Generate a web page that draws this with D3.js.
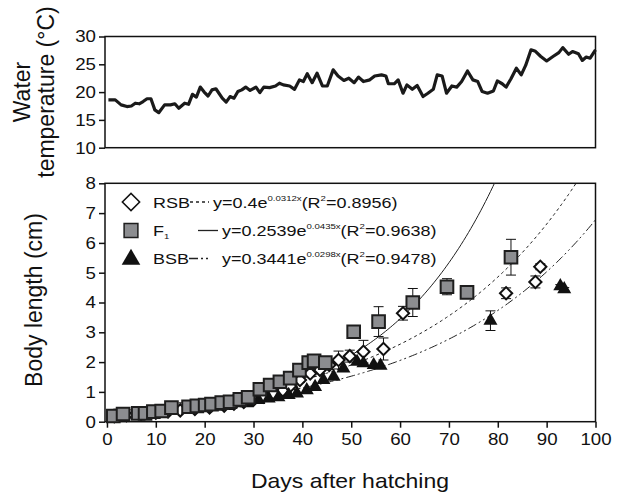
<!DOCTYPE html>
<html>
<head>
<meta charset="utf-8">
<script src="https://cdn.jsdelivr.net/npm/d3@7"></script>
<style>
  body { margin: 0; background: #fff; }
  svg { display: block; font-family: "Liberation Sans", Arial, sans-serif; }
</style>
</head>
<body>
<svg id="chart" width="623" height="495"></svg>
<script>
// water temperature
var tempDays = [0.3, 1.7, 2.9, 4.1, 5, 5.8, 6.6, 7.4, 8.2, 9, 9.8, 10.6, 11.8, 13, 13.9, 14.7, 15.9, 16.7, 17.5, 18.3,
  19.1, 19.9, 20.7, 21.5, 22.3, 23.6, 24.4, 25.2, 26, 26.8, 27.6, 28.4, 29.3, 30.5, 31.3, 32.1, 33.3, 34.5, 35.3, 36.1,
  37.4, 38.4, 39.4, 40.2, 41, 42, 43, 44.1, 45.1, 46.3, 47.3, 48.5, 49.5, 50.6, 51.5, 52.5, 53.8, 54.8, 56.2, 57.1,
  57.6, 58.8, 59.6, 60.6, 61.4, 62.5, 63.5, 64.7, 65.7, 66.8, 67.6, 68.6, 69.5, 70.6, 71.6, 72.6, 73.8, 74.9, 75.9, 76.8,
  77.9, 79.1, 79.9, 80.9, 81.7, 82.7, 83.8, 84.8, 85.7, 86.8, 87.6, 88.8, 90, 91.3, 92.5, 93.3, 94.5, 95.3, 96.5, 97.3,
  98.1, 98.9, 100];
var tempValues = [18.6, 18.6, 17.7, 17.4, 17.5, 18.0, 17.9, 18.3, 18.8, 18.8, 16.8, 16.3, 17.7, 17.7, 17.9, 17.1, 18.0, 17.8, 19.6, 19.1,
  20.9, 20.0, 19.3, 20.4, 20.6, 18.9, 18.2, 19.2, 18.9, 20.1, 20.4, 20.9, 20.3, 20.9, 19.9, 20.9, 20.8, 21.1, 21.6, 21.3,
  21.1, 20.5, 22.2, 21.9, 23.3, 21.7, 23.4, 21.1, 21.1, 24.0, 22.9, 22.1, 22.5, 21.7, 22.7, 21.9, 22.2, 22.9, 23.1, 22.9,
  21.5, 21.5, 22.2, 19.8, 21.3, 20.5, 21.2, 19.2, 19.8, 20.5, 23.1, 22.9, 19.8, 21.1, 20.9, 21.9, 23.8, 22.2, 21.9, 20.1,
  19.8, 20.2, 22.0, 21.5, 20.9, 22.4, 24.3, 23.1, 24.8, 27.6, 27.4, 26.4, 25.6, 26.4, 27.1, 28.0, 26.8, 27.3, 26.9, 25.7,
  26.3, 26.1, 27.6];

// body length, RSB (open diamonds)
var rsbDays = [1.5, 4, 7, 10, 12.5, 15, 18, 21, 24, 26, 28, 30, 32, 34, 36, 37.5, 39.5, 41.6, 43.6, 45.5, 47.4, 49.7, 52.5, 56.6, 60.6, 81.7, 87.7, 88.7];
var rsbLen  = [0.18, 0.22, 0.26, 0.3, 0.34, 0.38, 0.43, 0.48, 0.54, 0.6, 0.66, 0.74, 0.84, 0.95, 1.05, 1.2, 1.4, 1.62, 1.74, 1.9, 2.07, 2.2, 2.35, 2.44, 3.64, 4.31, 4.69, 5.2];
var rsbErr  = [0, 0, 0, 0, 0, 0, 0, 0, 0, 0, 0, 0, 0, 0, 0, 0, 0.08, 0.1, 0.12, 0.15, 0.3, 0.2, 0.38, 0.37, 0.23, 0.18, 0.2, 0.1];

// body length, F1 (grey squares)
var f1Days = [1.3, 3.3, 6.4, 7.8, 9.5, 11.2, 13.2, 16.7, 18.4, 20.1, 21.4, 23.5, 25.2, 27.2, 28.9, 31.3, 33.4, 35.4, 37.5, 39.4, 41.3, 42.4, 44.7, 50.5, 55.6, 62.6, 69.6, 73.7, 82.7];
var f1Len  = [0.19, 0.26, 0.28, 0.28, 0.34, 0.36, 0.47, 0.5, 0.53, 0.56, 0.59, 0.64, 0.67, 0.75, 0.82, 1.09, 1.23, 1.34, 1.46, 1.73, 1.98, 2.04, 1.98, 3.02, 3.36, 4.0, 4.53, 4.34, 5.52];
var f1Err  = [0, 0, 0, 0, 0, 0, 0, 0, 0, 0, 0, 0, 0, 0, 0, 0, 0, 0, 0, 0, 0, 0, 0, 0.1, 0.5, 0.47, 0.27, 0.12, 0.6];

// body length, BSB (black triangles)
var bsbDays = [22.5, 24.5, 26.6, 28.6, 31, 33.1, 35.1, 37.2, 38.9, 40.9, 42.6, 44.3, 46.4, 48.4, 51.2, 52.5, 54.6, 56, 78.5, 92.8, 93.6];
var bsbLen  = [0.5, 0.53, 0.62, 0.62, 0.73, 0.78, 0.82, 0.9, 0.95, 1.06, 1.17, 1.4, 1.51, 1.79, 2.01, 1.96, 1.9, 1.88, 3.39, 4.55, 4.45];
var bsbErr  = [0, 0, 0, 0, 0, 0, 0, 0, 0, 0, 0, 0, 0, 0, 0, 0, 0, 0, 0.33, 0.05, 0.05];

// exponential fits from the legend: y = a * e^(b x)
var fitNames = ["RSB", "F1", "BSB"];
var fitA  = [0.4, 0.2539, 0.3441];
var fitB  = [0.0312, 0.0435, 0.0298];
var fitAText = ["0.4", "0.2539", "0.3441"];
var fitBText = ["0.0312x", "0.0435x", "0.0298x"];
var fitR2 = ["0.8956", "0.9638", "0.9478"];

var tempTicks = [10, 15, 20, 25, 30];
var lenTicks = [0, 1, 2, 3, 4, 5, 6, 7, 8];
var dayTicks = [0, 10, 20, 30, 40, 50, 60, 70, 80, 90, 100];

var svg = d3.select("#chart");
var ink = "#111";
var sx = 1.2; // the figure is stretched sideways, text too
var tsx = 1.1;

var x = d3.scaleLinear().domain([-0.4, 100]).range([105, 595.5]);
var yT = d3.scaleLinear().domain([10, 30]).range([147.7, 36.5]);
var yL = d3.scaleLinear().domain([0, 8]).range([421.7, 183.3]);

function stretchTicks(g) {
  g.selectAll(".tick text")
    .attr("font-size", 17)
    .attr("fill", ink)
    .attr("transform", "scale(" + tsx + ",1)")
    .attr("x", function() { return +d3.select(this).attr("x") / tsx; });
  g.selectAll(".tick line").attr("stroke", ink).attr("stroke-width", 1.5);
  g.select(".domain").remove();
}

// ---- top panel
var gT = svg.append("g");
gT.append("rect")
  .attr("x", x.range()[0]).attr("y", yT(30))
  .attr("width", x.range()[1] - x.range()[0]).attr("height", yT(10) - yT(30))
  .attr("fill", "none").attr("stroke", ink).attr("stroke-width", 1.5);
var axT = gT.append("g")
  .attr("transform", "translate(" + x.range()[0] + ",0)")
  .call(d3.axisLeft(yT).tickValues(tempTicks).tickSize(6).tickPadding(3));
stretchTicks(axT);

var tempLine = d3.line()
  .x(function(d, i) { return x(tempDays[i]); })
  .y(function(d) { return yT(d); });
gT.append("path")
  .attr("d", tempLine(tempValues))
  .attr("fill", "none").attr("stroke", "#1a1a1a")
  .attr("stroke-width", 3.2).attr("stroke-linejoin", "round");

gT.append("text")
  .attr("transform", "translate(30,92) scale(1.05,1) rotate(-90)")
  .attr("text-anchor", "middle").attr("font-size", 23).attr("fill", ink)
  .text("Water");
gT.append("text")
  .attr("transform", "translate(54,92) scale(1.05,1) rotate(-90)")
  .attr("text-anchor", "middle").attr("font-size", 23).attr("fill", ink)
  .text("temperature (°C)");

// ---- bottom panel
var gB = svg.append("g");
gB.append("rect")
  .attr("x", x.range()[0]).attr("y", yL(8))
  .attr("width", x.range()[1] - x.range()[0]).attr("height", yL(0) - yL(8))
  .attr("fill", "none").attr("stroke", ink).attr("stroke-width", 1.5);
var axL = gB.append("g")
  .attr("transform", "translate(" + x.range()[0] + ",0)")
  .call(d3.axisLeft(yL).tickValues(lenTicks).tickSize(6).tickPadding(3));
stretchTicks(axL);
var axX = gB.append("g")
  .attr("transform", "translate(0," + yL(0) + ")")
  .call(d3.axisBottom(x).tickValues(dayTicks).tickSize(6).tickPadding(5));
stretchTicks(axX);

gB.append("text")
  .attr("transform", "translate(42,300) scale(1.05,1) rotate(-90)")
  .attr("text-anchor", "middle").attr("font-size", 23).attr("fill", ink)
  .text("Body length (cm)");
gB.append("text")
  .attr("transform", "translate(350,488) scale(1.15,1)")
  .attr("text-anchor", "middle").attr("font-size", 20).attr("fill", ink)
  .text("Days after hatching");

svg.append("clipPath").attr("id", "clipB")
  .append("rect")
  .attr("x", x.range()[0]).attr("y", yL(8))
  .attr("width", x.range()[1] - x.range()[0]).attr("height", yL(0) - yL(8));

// fitted curves
var fitDash = ["3,3", null, "9,3,2,3,2,3"];
var fitDays = d3.range(0, 100.5, 0.5);
fitNames.forEach(function(name, k) {
  var line = d3.line()
    .x(function(d) { return x(d); })
    .y(function(d) { return yL(fitA[k] * Math.exp(fitB[k] * d)); });
  gB.append("path")
    .attr("clip-path", "url(#clipB)")
    .attr("d", line(fitDays))
    .attr("fill", "none").attr("stroke", "#222")
    .attr("stroke-width", 1)
    .attr("stroke-dasharray", fitDash[k]);
});

// markers
var diamond = d3.symbol().type(d3.symbolSquare).size(75);
var square = d3.symbol().type(d3.symbolSquare).size(160);
var triangle = d3.symbol().type(d3.symbolTriangle).size(85);

function errorBars(days, vals, errs) {
  var g = gB.append("g").attr("stroke", ink).attr("stroke-width", 1);
  days.forEach(function(d, i) {
    if (!errs[i]) return;
    var cx = x(d), y0 = yL(vals[i] - errs[i]), y1 = yL(vals[i] + errs[i]);
    g.append("line").attr("x1", cx).attr("x2", cx).attr("y1", y0).attr("y2", y1);
    g.append("line").attr("x1", cx - 5).attr("x2", cx + 5).attr("y1", y0).attr("y2", y0);
    g.append("line").attr("x1", cx - 5).attr("x2", cx + 5).attr("y1", y1).attr("y2", y1);
  });
}

errorBars(rsbDays, rsbLen, rsbErr);
gB.append("g").selectAll("path")
  .data(rsbLen).enter().append("path")
  .attr("d", diamond)
  .attr("transform", function(d, i) { return "translate(" + x(rsbDays[i]) + "," + yL(d) + ") rotate(45)"; })
  .attr("fill", "#fff").attr("stroke", ink).attr("stroke-width", 2);

errorBars(bsbDays, bsbLen, bsbErr);
gB.append("g").selectAll("path")
  .data(bsbLen).enter().append("path")
  .attr("d", triangle)
  .attr("transform", function(d, i) { return "translate(" + x(bsbDays[i]) + "," + yL(d) + ")"; })
  .attr("fill", ink);

errorBars(f1Days, f1Len, f1Err);
gB.append("g").selectAll("path")
  .data(f1Len).enter().append("path")
  .attr("d", square)
  .attr("transform", function(d, i) { return "translate(" + x(f1Days[i]) + "," + yL(d) + ")"; })
  .attr("fill", "#8c8d90").attr("stroke", "#1e1e1e").attr("stroke-width", 2);

// ---- legend
var legY = [202, 230.5, 258.5];
var legLine = [[190, 209], [198, 218], [189, 210]];
var legEqX = [213, 222, 222];
var lg = svg.append("g");

lg.append("path").attr("d", d3.symbol().type(d3.symbolSquare).size(150)())
  .attr("transform", "translate(131," + legY[0] + ") rotate(45)")
  .attr("fill", "#fff").attr("stroke", ink).attr("stroke-width", 1.5);
lg.append("path").attr("d", d3.symbol().type(d3.symbolSquare).size(190)())
  .attr("transform", "translate(131," + legY[1] + ")")
  .attr("fill", "#8c8d90").attr("stroke", "#1e1e1e").attr("stroke-width", 1.5);
lg.append("path").attr("d", d3.symbol().type(d3.symbolTriangle).size(150)())
  .attr("transform", "translate(131," + (legY[2] + 1) + ")")
  .attr("fill", ink);

fitNames.forEach(function(name, k) {
  var yb = legY[k] + 5.5;
  var t = lg.append("text")
    .attr("transform", "translate(153," + yb + ") scale(" + sx + ",1)")
    .attr("font-size", 15).attr("fill", ink);
  if (name === "F1") {
    t.append("tspan").text("F");
    t.append("tspan").attr("font-size", 8).attr("dy", 3).text("1");
  } else {
    t.text(name);
  }
  lg.append("line")
    .attr("x1", legLine[k][0]).attr("x2", legLine[k][1])
    .attr("y1", legY[k]).attr("y2", legY[k])
    .attr("stroke", "#222").attr("stroke-width", 1.3)
    .attr("stroke-dasharray", fitDash[k]);
  var eq = lg.append("text")
    .attr("transform", "translate(" + legEqX[k] + "," + yb + ") scale(" + sx + ",1)")
    .attr("font-size", 15).attr("fill", ink);
  eq.append("tspan").text("y=" + fitAText[k] + "e");
  eq.append("tspan").attr("font-size", 8).attr("dy", -7).text(fitBText[k]);
  eq.append("tspan").attr("dy", 7).text("(R");
  eq.append("tspan").attr("font-size", 8).attr("dy", -7).text("2");
  eq.append("tspan").attr("dy", 7).text("=" + fitR2[k] + ")");
});
</script>
</body>
</html>
